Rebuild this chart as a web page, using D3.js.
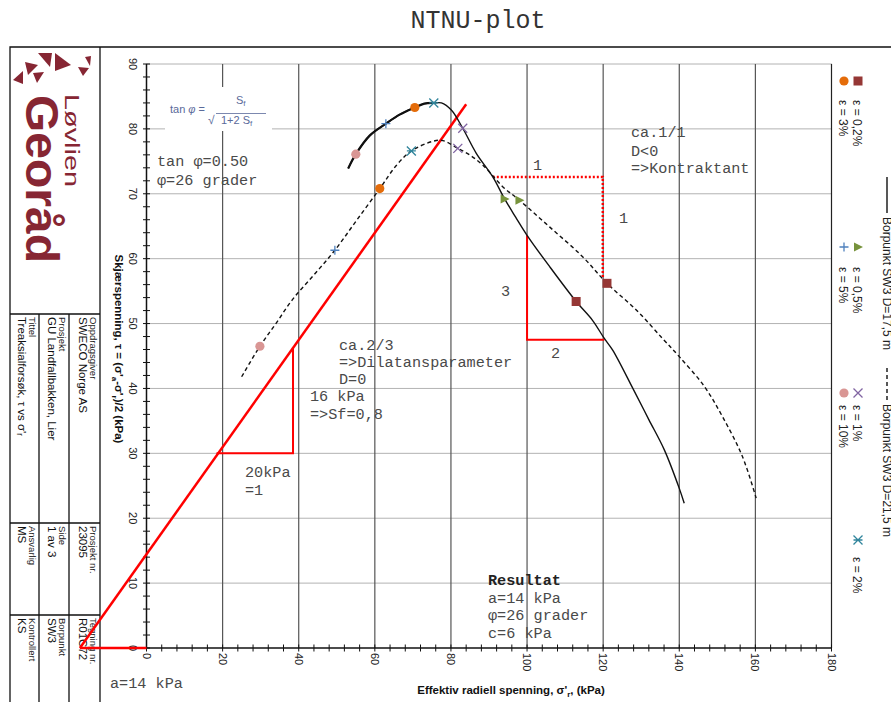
<!DOCTYPE html>
<html>
<head>
<meta charset="utf-8">
<script src="https://cdn.jsdelivr.net/npm/d3@7"></script>
<style>
  body { margin: 0; background: #fff; }
  text { font-family: "Liberation Sans", Arial, sans-serif; }
  .mono { font-family: "Liberation Mono", "Courier New", monospace; }
</style>
</head>
<body>
<svg id="chart" width="891" height="702"></svg>
<script>
// ---- Data (σ'r and τ in kPa) ----
// Stress path, Borpunkt SW3 D=17,5 m (solid)
const path17Sigma = [53.0, 55.0, 58.7, 62.9, 66.5, 70.5, 73.0, 75.5, 77.5, 80.1, 83.1, 86.7, 91.0, 94.1, 97.0, 100.0, 105.9, 112.9, 117.2, 120.3, 122.5, 127.8, 132.0, 136.1, 140.0, 141.3];
const path17Tau   = [73.9, 76.1, 79.0, 80.8, 82.2, 83.3, 83.9, 84.0, 84.0, 82.9, 80.1, 76.2, 72.6, 69.2, 66.4, 63.6, 58.8, 53.4, 50.5, 47.7, 45.9, 40.0, 35.2, 30.5, 24.6, 22.3];
// Stress path, Borpunkt SW3 D=21,5 m (dashed)
const path21Sigma = [25.0, 29.8, 34.0, 38.5, 44.0, 49.5, 55.2, 61.3, 65.7, 69.6, 75.3, 77.9, 81.8, 84.9, 88.4, 93.6, 98.0, 105.9, 114.6, 121.0, 128.7, 135.6, 140.0, 146.6, 151.4, 156.6, 160.2];
const path21Tau   = [41.8, 46.5, 50.0, 53.8, 57.5, 61.3, 65.9, 70.8, 74.4, 76.6, 78.1, 78.2, 77.0, 76.0, 74.4, 71.1, 69.0, 64.9, 60.3, 56.2, 52.1, 47.7, 44.9, 40.3, 35.6, 29.5, 23.1];

// Strain levels marked along both paths
const strainLabels = ["0,2%", "0,5%", "1%", "2%", "3%", "5%", "10%"];
const mark17Sigma = [112.9, 94.1, 83.1, 75.5, 70.5, 62.9, 55.0];
const mark17Tau   = [53.4, 69.2, 80.1, 84.0, 83.3, 80.8, 76.1];
const mark21Sigma = [121.0, 98.0, 81.8, 69.6, 61.3, 49.5, 29.8];
const mark21Tau   = [56.2, 69.0, 77.0, 76.6, 70.8, 61.3, 46.5];

// Interpreted strength envelope (attraction a) and slope triangles
const envelopeSigma = [-17.5, 84.0];
const envelopeTau   = [0, 83.8];
const baseSigma = [-17.5, 0];
const baseTau   = [0, 0];
const triLeftSigma  = [18.4, 38.5, 38.5];
const triLeftTau    = [30, 30, 46.3];
const triRightSigma = [100, 100, 120.3];
const triRightTau   = [63.6, 47.5, 47.5];
const triDotSigma   = [91.0, 119.9, 119.9];
const triDotTau     = [72.6, 72.6, 57.0];

// Axes
const xTicks = [0, 20, 40, 60, 80, 100, 120, 140, 160, 180];
const yTicks = [0, 10, 20, 30, 40, 50, 60, 70, 80, 90];
const xMinor = d3.range(0, 181, 4);
const yMinor = d3.range(0, 91, 2);

// ---- Drawing ----
const svg = d3.select("#chart");
const x = d3.scaleLinear().domain([0, 180]).range([146.5, 831.5]);
const y = d3.scaleLinear().domain([0, 90]).range([648, 64]);
const zip = (a, b) => a.map((v, i) => [v, b[i]]);
const line = d3.line().x(d => x(d[0])).y(d => y(d[1]));
const curve = d3.line().x(d => x(d[0])).y(d => y(d[1])).curve(d3.curveCatmullRom.alpha(0.5));

const markerStyle = [
  { type: "square",   color: "#953735" },
  { type: "triRight", color: "#77933c" },
  { type: "times",    color: "#8064a2" },
  { type: "asterisk", color: "#31859c" },
  { type: "circle",   color: "#e46c0a" },
  { type: "plus",     color: "#4f81bd" },
  { type: "circle",   color: "#d99694" }
];

function drawMarker(g, cx, cy, style) {
  const s = 4.5;
  const c = style.color;
  if (style.type === "circle") {
    g.append("circle").attr("cx", cx).attr("cy", cy).attr("r", 4.6).attr("fill", c);
  } else if (style.type === "square") {
    g.append("rect").attr("x", cx - s).attr("y", cy - s).attr("width", 2 * s).attr("height", 2 * s).attr("fill", c);
  } else if (style.type === "triRight") {
    g.append("path").attr("d", `M${cx - 4},${cy - 4.5}L${cx + 5},${cy}L${cx - 4},${cy + 4.5}Z`).attr("fill", c);
  } else if (style.type === "plus") {
    g.append("path").attr("d", `M${cx - s},${cy}H${cx + s}M${cx},${cy - s}V${cy + s}`)
      .attr("stroke", c).attr("stroke-width", 1.3).attr("fill", "none");
  } else if (style.type === "times") {
    g.append("path").attr("d", `M${cx - s},${cy - s}L${cx + s},${cy + s}M${cx - s},${cy + s}L${cx + s},${cy - s}`)
      .attr("stroke", c).attr("stroke-width", 1.3).attr("fill", "none");
  } else if (style.type === "asterisk") {
    g.append("path").attr("d", `M${cx - s},${cy - s}L${cx + s},${cy + s}M${cx - s},${cy + s}L${cx + s},${cy - s}M${cx - s},${cy}H${cx + s}`)
      .attr("stroke", c).attr("stroke-width", 1.3).attr("fill", "none");
  }
}

function rtext(g, px, py, str, size, opts = {}) {
  const t = g.append("text")
    .attr("transform", `translate(${px},${py}) rotate(90)`)
    .attr("font-size", size)
    .attr("fill", opts.fill || "#222")
    .attr("text-anchor", opts.anchor || "start")
    .text(str);
  if (opts.weight) t.attr("font-weight", opts.weight);
  if (opts.central) t.attr("dominant-baseline", "central");
  if (opts.len) t.attr("textLength", opts.len).attr("lengthAdjust", "spacingAndGlyphs");
  return t;
}

// Title
svg.append("text").attr("class", "mono").attr("x", 478).attr("y", 28)
  .attr("text-anchor", "middle").attr("font-size", 25).attr("fill", "#333").text("NTNU-plot");

// Page frame and title block
const frame = svg.append("g").attr("stroke", "#111").attr("stroke-width", 1.3).attr("fill", "none");
frame.append("path").attr("d", "M10,702V47H891");
frame.append("path").attr("d", "M100,47V702");
frame.append("path").attr("d", "M10,314H100M10,523H100M10,615H100M39,314V702M69,314V702");

const blockRows = [
  { y: 317, cells: [["Oppdragsgiver", "SWECO Norge AS"], ["Prosjekt", "GU Landfallbakken, Lier"], ["Tittel", "Treaksialforsøk, τ vs σ'ᵣ"]] },
  { y: 526, cells: [["Prosjekt nr.", "23095"], ["Side", "1 av 3"], ["Ansvarlig", "MS"]] },
  { y: 618, cells: [["Tegning nr.", "R01C72"], ["Borpunkt", "SW3"], ["Kontrollert", "KS"]] }
];
const colX = [100, 69, 39];
blockRows.forEach(row => {
  row.cells.forEach((cell, i) => {
    rtext(svg, colX[i] - 10, row.y, cell[0], 9.5, { fill: "#222" });
    rtext(svg, colX[i] - 21, row.y, cell[1], 11.5, { fill: "#111" });
  });
});

// Logo
const logoColor = "#862633";
const logo = svg.append("g").attr("fill", logoColor);
[
  "M13,80L23,71L23,84Z",
  "M25,62L38,65L28,75Z",
  "M33,73L44,72L37,83Z",
  "M38,53L52,53L50,67Z",
  "M55,53L71,65L55,71Z",
  "M78,67L89,68L83,76Z",
  "M85,57L91,56L90,66Z"
].forEach(d => logo.append("path").attr("d", d));
rtext(logo, 65, 94, "Løvlien", 21, { fill: logoColor, len: 93 });
rtext(logo, 26, 95, "Georåd", 46, { fill: logoColor, weight: "bold", len: 168 });

// Grid
const grid = svg.append("g");
grid.selectAll("line.h").data(yTicks.slice(1)).join("line")
  .attr("x1", x(0)).attr("x2", x(180)).attr("y1", d => y(d)).attr("y2", d => y(d))
  .attr("stroke", "#666").attr("stroke-width", 1).attr("stroke-dasharray", "1,1");
grid.selectAll("line.v").data(xTicks.slice(1)).join("line")
  .attr("x1", d => x(d)).attr("x2", d => x(d)).attr("y1", y(0)).attr("y2", y(90))
  .attr("stroke", d => d === 180 ? "#222" : "#555").attr("stroke-width", 1.2);

// Formula box
svg.append("rect").attr("x", 165).attr("y", 87).attr("width", 107).attr("height", 44).attr("fill", "#fff");
const fcol = "#5a6a9a";
svg.append("text").attr("x", 170).attr("y", 113).attr("font-size", 11).attr("fill", fcol)
  .html("tan <tspan font-style='italic'>φ</tspan> =");
svg.append("text").attr("x", 236).attr("y", 104).attr("font-size", 11).attr("fill", fcol)
  .html("S<tspan font-size='8' dy='2'>f</tspan>");
svg.append("text").attr("x", 208).attr("y", 124).attr("font-size", 12).attr("fill", fcol).text("√");
svg.append("line").attr("x1", 216).attr("x2", 266).attr("y1", 113.5).attr("y2", 113.5)
  .attr("stroke", fcol).attr("stroke-width", 0.8);
svg.append("text").attr("x", 221).attr("y", 124).attr("font-size", 11).attr("fill", fcol)
  .html("1+2 S<tspan font-size='8' dy='2'>f</tspan>");

// Axes
const ax = svg.append("g").attr("stroke", "#111");
ax.append("line").attr("x1", x(0)).attr("x2", x(180)).attr("y1", y(0)).attr("y2", y(0)).attr("stroke-width", 1.5);
ax.append("line").attr("x1", x(0)).attr("x2", x(0)).attr("y1", y(0)).attr("y2", y(90)).attr("stroke-width", 1.5);
ax.selectAll("line.xt").data(xMinor).join("line")
  .attr("x1", d => x(d)).attr("x2", d => x(d)).attr("y1", y(0) - 3.5).attr("y2", y(0) + 3.5).attr("stroke-width", 1);
ax.selectAll("line.yt").data(yMinor).join("line")
  .attr("y1", d => y(d)).attr("y2", d => y(d)).attr("x1", x(0) - 3.5).attr("x2", x(0) + 3.5).attr("stroke-width", 1);

const tl = svg.append("g");
xTicks.forEach(v => rtext(tl, x(v), 653, String(v), 11, { central: true }));
yTicks.forEach(v => rtext(tl, 133, y(v), String(v), 11, { central: true, anchor: "middle" }));

// Axis titles
svg.append("text").attr("x", 511).attr("y", 694).attr("text-anchor", "middle")
  .attr("font-size", 11.5).attr("font-weight", "bold").attr("fill", "#111")
  .html("Effektiv radiell spenning, σ'<tspan font-size='8' dy='3'>r</tspan><tspan dy='-3'>, (kPa)</tspan>");
svg.append("text").attr("transform", "translate(114.5,349) rotate(90)").attr("text-anchor", "middle")
  .attr("font-size", 11.5).attr("font-weight", "bold").attr("fill", "#111")
  .html("Skjærspenning, τ = (σ'<tspan font-size='8' dy='3'>a</tspan><tspan dy='-3'>-σ'</tspan><tspan font-size='8' dy='3'>r</tspan><tspan dy='-3'>)/2 (kPa)</tspan>");

// Strength envelope and slope triangles
const red = "#ff0000";
svg.append("path").attr("d", line(zip(baseSigma, baseTau))).attr("stroke", red).attr("stroke-width", 2.5).attr("fill", "none");
svg.append("path").attr("d", line(zip(envelopeSigma, envelopeTau))).attr("stroke", red).attr("stroke-width", 2.5).attr("fill", "none");
svg.append("path").attr("d", line(zip(triLeftSigma, triLeftTau))).attr("stroke", red).attr("stroke-width", 2).attr("fill", "none");
svg.append("path").attr("d", line(zip(triRightSigma, triRightTau))).attr("stroke", red).attr("stroke-width", 2).attr("fill", "none");
svg.append("path").attr("d", line(zip(triDotSigma, triDotTau))).attr("stroke", red).attr("stroke-width", 2.5)
  .attr("stroke-dasharray", "2,2").attr("fill", "none");

// Stress paths
const p17 = zip(path17Sigma, path17Tau);
const peak17 = d3.maxIndex(path17Tau);
svg.append("path").attr("d", curve(p17)).attr("stroke", "#111").attr("stroke-width", 1.4).attr("fill", "none");
svg.append("path").attr("d", curve(p17.slice(0, peak17 + 1))).attr("stroke", "#111").attr("stroke-width", 2.2).attr("fill", "none");
svg.append("path").attr("d", curve(zip(path21Sigma, path21Tau))).attr("stroke", "#111").attr("stroke-width", 1.4)
  .attr("stroke-dasharray", "4,3").attr("fill", "none");

const mk = svg.append("g");
strainLabels.forEach((lab, i) => {
  drawMarker(mk, x(mark17Sigma[i]), y(mark17Tau[i]), markerStyle[i]);
  drawMarker(mk, x(mark21Sigma[i]), y(mark21Tau[i]), markerStyle[i]);
});

// Legend (rotated)
const lg = svg.append("g");
const legendRowY = [81, 247, 393, 540];
const legendTextY = [100, 267, 405, 557];
strainLabels.forEach((lab, i) => {
  const col = i < 4 ? 0 : 1;
  const row = i < 4 ? i : i - 4;
  const mx = col === 0 ? 858 : 844;
  drawMarker(lg, mx, legendRowY[row], markerStyle[i]);
  rtext(lg, mx - 1.5, legendTextY[row], "ε = " + lab, 12, { central: true, fill: "#222" });
});
lg.append("line").attr("x1", 887).attr("x2", 887).attr("y1", 177).attr("y2", 213).attr("stroke", "#111").attr("stroke-width", 1.4);
rtext(lg, 883, 217, "Borpunkt SW3 D=17,5 m", 12, { fill: "#222" });
lg.append("line").attr("x1", 887).attr("x2", 887).attr("y1", 368).attr("y2", 400).attr("stroke", "#111").attr("stroke-width", 1.4)
  .attr("stroke-dasharray", "4,3");
rtext(lg, 883, 404, "Borpunkt SW3 D=21,5 m", 12, { fill: "#222" });

// Annotations
const notes = [
  [157, 166, "tan φ=0.50"], [157, 185, "φ=26 grader"],
  [631, 137, "ca.1/1"], [631, 156, "D<0"], [631, 173, "=>Kontraktant"],
  [533, 170, "1"], [619, 223, "1"], [501, 296, "3"], [551, 358, "2"],
  [339, 350, "ca.2/3"], [339, 367, "=>Dilatansparameter"], [339, 384, "D=0"],
  [310, 401, "16 kPa"], [310, 419, "=>Sf=0,8"],
  [245, 477, "20kPa"], [245, 495, "=1"],
  [488, 603, "a=14 kPa"], [488, 620, "φ=26 grader"], [488, 638, "c=6 kPa"],
  [110, 688, "a=14 kPa"]
];
const an = svg.append("g").attr("class", "mono");
notes.forEach(n => an.append("text").attr("class", "mono").attr("x", n[0]).attr("y", n[1])
  .attr("font-size", 15.2).attr("fill", "#4a4a4a").text(n[2]));
an.append("text").attr("class", "mono").attr("x", 488).attr("y", 585).attr("font-size", 15.2)
  .attr("font-weight", "bold").attr("fill", "#222").text("Resultat");
</script>
</body>
</html>
